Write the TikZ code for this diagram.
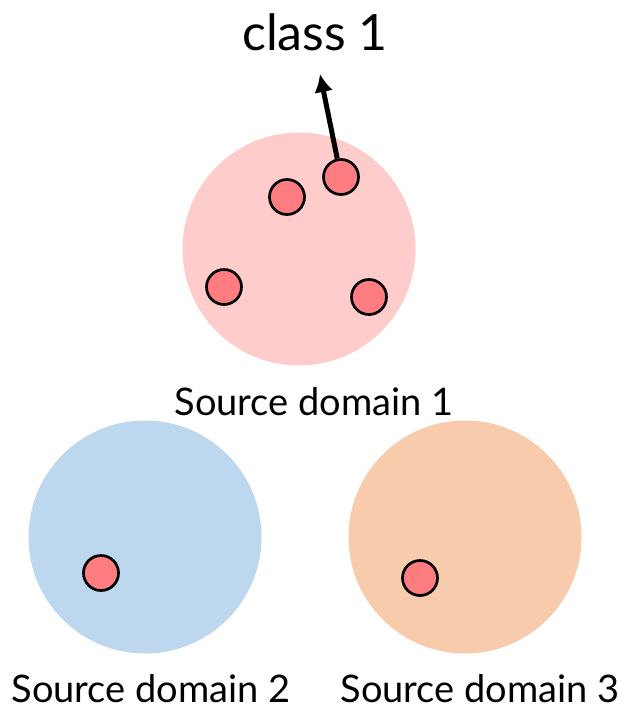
\documentclass[tikz,border=0pt]{standalone}
\usepackage{fontspec}
\setmainfont{Lato}
\usetikzlibrary{arrows.meta}

\definecolor{domainA}{HTML}{FFCCCC}
\definecolor{domainB}{HTML}{BDD7EE}
\definecolor{domainC}{HTML}{F8CBAD}
\definecolor{sample}{HTML}{FF7C80}

\begin{document}
\begin{tikzpicture}[x=1pt,y=-1pt]

    \tikzset{
      domaindisc/.style={
        circle,
        draw=none,
        inner sep=0pt,
        minimum size=233pt,
      },
      dot/.style={
        circle,
        draw=black,
        line width=2.7pt,
        fill=sample,
        inner sep=0pt,
        minimum size=35pt,
      },
      caption/.style={
        anchor=base,
        inner sep=0pt,
        font=\fontsize{38}{40}\selectfont,
      },
      pointer/.style={
        draw=black,
        line width=5pt,
        -{Latex[length=18pt,width=19pt]},
      },
    }
    \useasboundingbox (0,0) rectangle (625,711);
	% the three domains
	\node[domaindisc, fill=domainA] (d1) at (299,249) {};
	\node[domaindisc, fill=domainB] (d2) at (145,537) {};
	\node[domaindisc, fill=domainC] (d3) at (465,537) {};
	% samples of class 1
	\node[dot] (p1) at (287,197) {};
	\node[dot] (p2) at (341,177) {};
	\node[dot] (p3) at (224,287) {};
	\node[dot] (p4) at (369,297) {};
	\node[dot] (q1) at (101,573) {};
	\node[dot] (r1) at (420,578) {};
	% label and pointer
	\node[caption, font=\fontsize{50}{52}\selectfont] (cls) at (315,51) {class 1};
	\coordinate (tip) at (320,74);
	\draw[pointer] (p2) -- (tip);
	\node[caption] (s1) at (314,415) {Source domain 1};
	\node[caption] (s2) at (151,702) {Source domain 2};
	\node[caption] (s3) at (480,702) {Source domain 3};

\end{tikzpicture}
\end{document}
